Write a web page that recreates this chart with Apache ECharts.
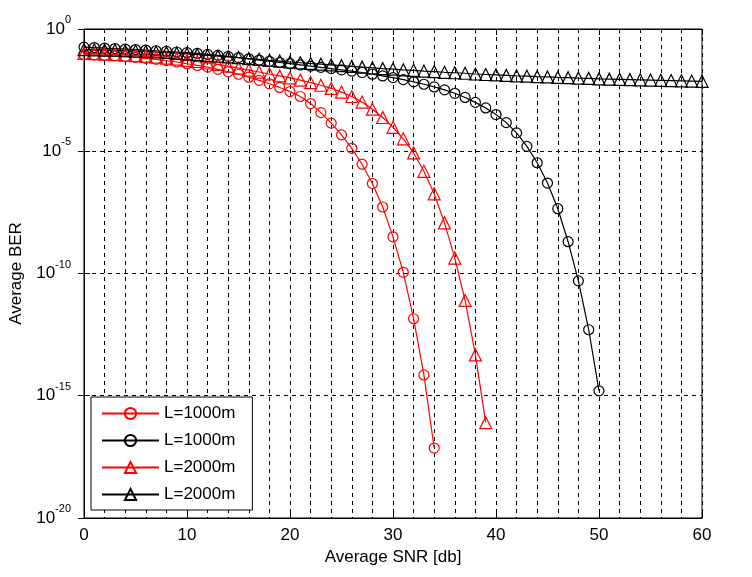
<!DOCTYPE html>
<html lang="en">
<head>
    <meta charset="UTF-8">
    <title>Average BER vs SNR</title>
    <style>
        html, body { margin: 0; padding: 0; background: #fff; }
        #main { width: 752px; height: 577px; }
    </style>
    <script src="https://cdn.jsdelivr.net/npm/echarts@6/dist/echarts.min.js"></script>
</head>
<body>
<div id="main"></div>
<script type="text/javascript">
    // values, stored as log10(BER) for each SNR step of 1 dB
    var redCircleLog = [-1.05, -1.06, -1.08, -1.10, -1.13, -1.16, -1.20, -1.24, -1.29, -1.35,
        -1.42, -1.49, -1.56, -1.65, -1.75, -1.85, -1.97, -2.10, -2.24, -2.39,
        -2.56, -2.76, -3.05, -3.42, -3.85, -4.33, -4.88, -5.53, -6.32, -7.28,
        -8.50, -9.95, -11.85, -14.15, -17.14];
    var blackCircleLog = [-0.74, -0.76, -0.78, -0.80, -0.82, -0.84, -0.86, -0.89, -0.91, -0.94,
        -0.97, -1.00, -1.04, -1.08, -1.12, -1.17, -1.22, -1.27, -1.32, -1.37,
        -1.42, -1.47, -1.52, -1.57, -1.62, -1.67, -1.72, -1.78, -1.85, -1.92,
        -1.99, -2.07, -2.16, -2.26, -2.37, -2.49, -2.63, -2.80, -3.00, -3.23,
        -3.50, -3.83, -4.25, -4.80, -5.47, -6.30, -7.35, -8.70, -10.3, -12.3, -14.8];
    var redTriangleLog = [-1.00, -1.01, -1.03, -1.05, -1.07, -1.09, -1.12, -1.15, -1.19, -1.23,
        -1.28, -1.33, -1.39, -1.45, -1.52, -1.60, -1.68, -1.76, -1.84, -1.92,
        -2.00, -2.09, -2.19, -2.30, -2.43, -2.58, -2.76, -2.99, -3.28, -3.62,
        -4.02, -4.49, -5.07, -5.82, -6.74, -7.93, -9.37, -11.1, -13.33, -16.1];
    var blackTriangleLog = [-0.84, -0.85, -0.86, -0.87, -0.89, -0.90, -0.92, -0.94, -0.96, -0.99,
        -1.02, -1.05, -1.08, -1.11, -1.14, -1.17, -1.21, -1.24, -1.28, -1.31,
        -1.35, -1.38, -1.41, -1.44, -1.47, -1.50, -1.53, -1.56, -1.59, -1.62,
        -1.64, -1.67, -1.69, -1.72, -1.74, -1.77, -1.79, -1.81, -1.84, -1.86,
        -1.88, -1.90, -1.92, -1.93, -1.95, -1.96, -1.98, -1.99, -2.01, -2.02,
        -2.04, -2.05, -2.06, -2.07, -2.08, -2.09, -2.10, -2.11, -2.12, -2.13, -2.14];
    var seriesNames = ['L=1000m', 'L=1000m ', 'L=2000m', 'L=2000m '];
    var xTicks = [0, 10, 20, 30, 40, 50, 60];
    var yTickExps = [0, -5, -10, -15, -20];

    function toPoints(logs) {
        return logs.map(function (v, i) { return [i, Math.pow(10, v)]; });
    }

    var font = 'Liberation Sans, Arial, sans-serif';
    var dash = { color: '#000', width: 1, type: [4, 4] };

    function mkSeries(name, logs, symbol, size, color) {
        return {
            name: name,
            type: 'line',
            data: toPoints(logs),
            symbol: symbol,
            symbolSize: size,
            showAllSymbol: true,
            lineStyle: { color: color, width: 1.2 },
            itemStyle: { color: 'rgba(0,0,0,0)', borderColor: color, borderWidth: 1.2 },
            emphasis: { disabled: true },
            z: 5
        };
    }

    var myChart = echarts.init(document.getElementById('main'));
    var option = {
        animation: false,
        grid: { left: 80, top: 29, right: 50, bottom: 59, show: true, borderColor: '#000', borderWidth: 1 },
        legend: {
            orient: 'vertical',
            left: 91,
            top: 397,
            padding: [8, 17, 7, 10],
            itemWidth: 57,
            itemHeight: 14,
            itemGap: 10,
            borderColor: '#000',
            borderWidth: 1,
            backgroundColor: '#fff',
            textStyle: { fontFamily: font, fontSize: 17, color: '#000' },
            formatter: function (n) { return n.trim(); },
            data: seriesNames
        },
        xAxis: [{
            type: 'value',
            min: 0, max: 60, interval: 10,
            name: 'Average SNR [db]',
            nameLocation: 'middle',
            nameGap: 28,
            nameTextStyle: { fontFamily: font, fontSize: 17, color: '#000' },
            axisLine: { show: true, lineStyle: { color: '#000' } },
            axisTick: { show: true, inside: true, length: 6, lineStyle: { color: '#000' } },
            axisLabel: {
                fontFamily: font, fontSize: 17, color: '#000', margin: 9,
                formatter: function (v) { return xTicks.indexOf(v) >= 0 ? String(v) : ''; }
            },
            splitLine: { show: true, lineStyle: dash },
            minorTick: { show: false, splitNumber: 5 },
            minorSplitLine: { show: true, lineStyle: dash }
        }, {
            type: 'value', position: 'top',
            min: 0, max: 60, interval: 10,
            axisLine: { show: true, lineStyle: { color: '#000' } },
            axisTick: { show: true, inside: true, length: 6, lineStyle: { color: '#000' } },
            axisLabel: { show: false },
            splitLine: { show: false }
        }],
        yAxis: [{
            type: 'log', logBase: 10,
            min: 1e-20, max: 1, interval: 5,
            name: 'Average BER',
            nameLocation: 'middle',
            nameGap: 59,
            nameTextStyle: { fontFamily: font, fontSize: 17, color: '#000' },
            axisLine: { show: true, lineStyle: { color: '#000' } },
            axisTick: { show: true, inside: true, length: 6, lineStyle: { color: '#000' } },
            axisLabel: {
                margin: 13,
                formatter: function (v) {
                    var e = Math.round(Math.log10(v));
                    if (yTickExps.indexOf(e) < 0) return '';
                    return '{b|10}{s|' + e + '}';
                },
                rich: {
                    b: { fontFamily: font, fontSize: 17, color: '#000' },
                    s: { fontFamily: font, fontSize: 11, color: '#000', padding: [0, 0, 18, 0] }
                }
            },
            splitLine: { show: true, lineStyle: dash },
            minorSplitLine: { show: false }
        }, {
            type: 'log', logBase: 10, position: 'right',
            min: 1e-20, max: 1, interval: 5,
            axisLine: { show: true, lineStyle: { color: '#000' } },
            axisTick: { show: true, inside: true, length: 6, lineStyle: { color: '#000' } },
            axisLabel: { show: false },
            splitLine: { show: false }
        }],
        series: [
            mkSeries(seriesNames[0], redCircleLog, 'circle', 10, '#ff0000'),
            mkSeries(seriesNames[1], blackCircleLog, 'circle', 10, '#000000'),
            mkSeries(seriesNames[2], redTriangleLog, 'triangle', 12, '#ff0000'),
            mkSeries(seriesNames[3], blackTriangleLog, 'triangle', 12, '#000000')
        ]
    };
    myChart.setOption(option);
</script>
</body>
</html>
